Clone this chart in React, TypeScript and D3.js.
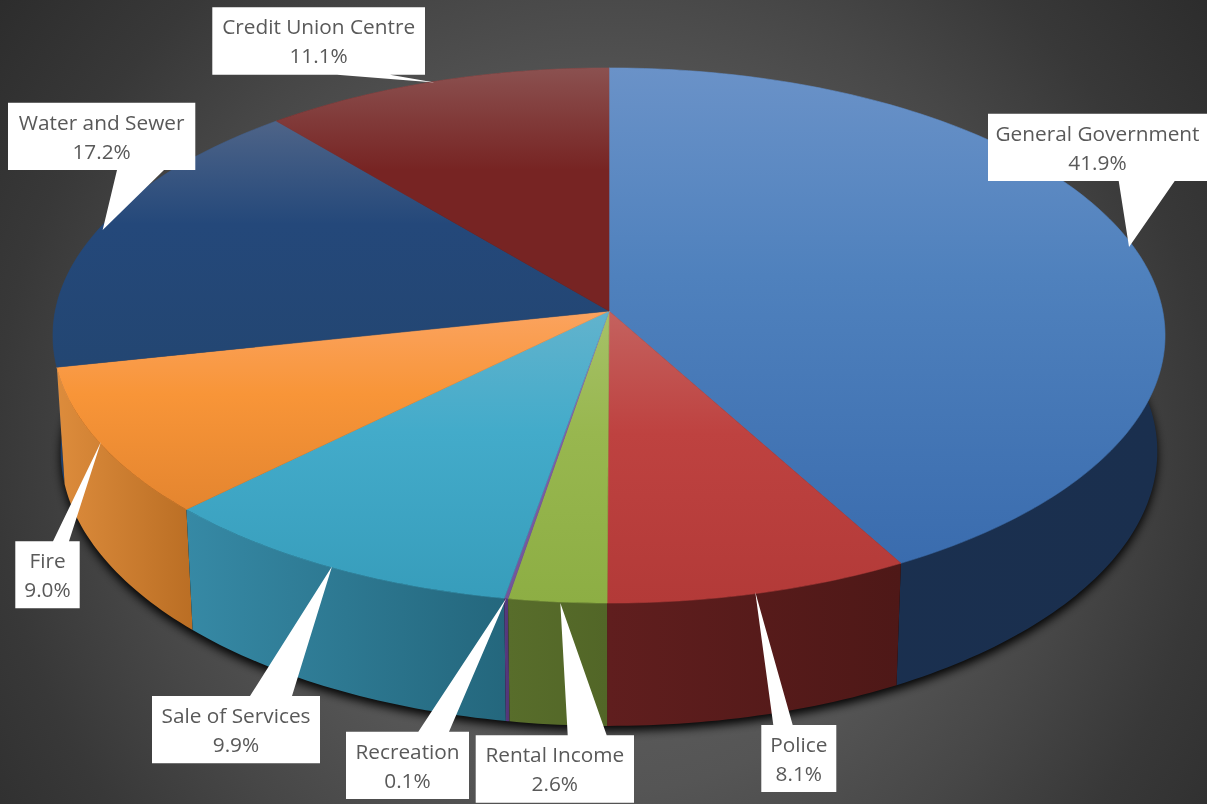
import React from "react";
import * as d3 from "d3";

const categories = ["General Government", "Police", "Rental Income", "Recreation", "Sale of Services", "Fire", "Water and Sewer", "Credit Union Centre"];
const shares = [41.9, 8.1, 2.6, 0.1, 9.9, 9.0, 17.2, 11.1];
const topLight = ["#6A92C8", "#C4625F", "#A6C168", "#9479BC", "#62B3CD", "#FBA35F", "#4E6488", "#8B5150"];
const topBase = ["#4F81BD", "#BE4240", "#98B74F", "#7F5FA9", "#43ABCA", "#F89538", "#24487A", "#772423"];
const topDark = ["#3A6CAE", "#B33A38", "#8DAE44", "#71559A", "#379DBB", "#E4852F", "#234672", "#772423"];
const wallLeft = ["#1A3050", "#601E1E", "#586D2B", "#5A3A80", "#3689A5", "#DD8C3C", "#1F3F6B", "#4E1817"];
const wallRight = ["#1A2F4E", "#4E1817", "#526627", "#503574", "#24677D", "#BA6E24", "#1F3F6B", "#4E1817"];
// label boxes and callout bases, in page pixels
const boxX0 = [988, 761.3, 475.7, 346, 152, 15.3, 8, 212.3];
const boxX1 = [1207, 836.3, 634, 469, 320, 79.7, 195.3, 425];
const boxY0 = [113.7, 725, 735.3, 731.7, 696, 541.3, 102.7, 7.3];
const boxY1 = [181, 792, 802.7, 799, 763.3, 608.3, 170, 74.7];
const baseA = [1118.7, 773.3, 567.7, 418.3, 250, 53, 117, 337];
const baseB = [1174.7, 792.7, 606.7, 449, 292, 69, 164, 390];
const tipDx = [-4, -5, 3, 0, 3.5, 2, 2, 0];
const tipDy = [1, -1, 1, 0, 0, 0, 3, 1];

const W = 1207, H = 804;
const cx = 609, cy = 311, A = 553.7, B = 265.3, K = 0.0916, D = 0.014, DROP = 117.4;

type P = [number, number];
const topPt = (t: number): P => {
  const u = Math.sin(t), v = Math.cos(t), s = 1 + K * v;
  return [cx + (A * u) / s, cy - (B * v) / s];
};
const botPt = (t: number): P => {
  const u = Math.sin(t), v = Math.cos(t), s = 1 + K * v + D;
  return [cx + (A * u) / s, cy + (-B * v + DROP) / s];
};
const line = d3.line<P>().x((d) => d[0]).y((d) => d[1]);

const arcs = d3.pie<number>().sort(null).startAngle(0).endAngle(2 * Math.PI)(shares);
const sample = (a: number, b: number, fn: (t: number) => P): P[] => {
  const n = Math.max(2, Math.ceil(((b - a) * 180) / Math.PI));
  return d3.range(n + 1).map((i) => fn(a + ((b - a) * i) / n));
};
const face = (a: number, b: number) => line([[cx, cy], ...sample(a, b, topPt)])! + "Z";
const wall = (a: number, b: number) => line([...sample(a, b, topPt), ...sample(a, b, botPt).reverse()])! + "Z";
const bottom = line(sample(0, 2 * Math.PI, botPt))! + "Z";

const wallOrder = d3.range(arcs.length).sort(
  (p, q) => Math.cos((arcs[q].startAngle + arcs[q].endAngle) / 2) - Math.cos((arcs[p].startAngle + arcs[p].endAngle) / 2)
);

function callout(i: number): string {
  const rim = topPt((arcs[i].startAngle + arcs[i].endAngle) / 2);
  const tip: P = [rim[0] + tipDx[i], rim[1] + tipDy[i]];
  const x0 = boxX0[i], x1 = boxX1[i], y0 = boxY0[i], y1 = boxY1[i];
  const a = baseA[i], b = baseB[i];
  const pts: P[] =
    tip[1] > y1
      ? [[x0, y0], [x1, y0], [x1, y1], [b, y1], tip, [a, y1], [x0, y1]]
      : [[x0, y0], [a, y0], tip, [b, y0], [x1, y0], [x1, y1], [x0, y1]];
  return line(pts)! + "Z";
}

export default function App() {
  const font = "'Open Sans', 'Noto Sans', sans-serif";
  return (
    <svg width={W} height={H} viewBox={`0 0 ${W} ${H}`} style={{ position: "fixed", left: 0, top: 0 }}>
      <defs>
        <radialGradient id="bg" gradientUnits="userSpaceOnUse" cx={603} cy={450} r={760}>
          <stop offset="0" stopColor="#666666" />
          <stop offset="0.45" stopColor="#555555" />
          <stop offset="0.63" stopColor="#474747" />
          <stop offset="0.8" stopColor="#383838" />
          <stop offset="1" stopColor="#2c2c2c" />
        </radialGradient>
        <filter id="blur" x="-5%" y="-5%" width="110%" height="115%">
          <feGaussianBlur stdDeviation="5" />
        </filter>
        {arcs.map((_, i) => (
          <linearGradient key={i} id={`t${i}`} x1="0" y1="0" x2="0" y2="1">
            <stop offset="0" stopColor={topLight[i]} />
            <stop offset="0.42" stopColor={topBase[i]} />
            <stop offset="1" stopColor={topDark[i]} />
          </linearGradient>
        ))}
        {arcs.map((_, i) => (
          <linearGradient key={i} id={`w${i}`} x1="0" y1="0" x2="1" y2="0">
            <stop offset="0" stopColor={wallLeft[i]} />
            <stop offset="1" stopColor={wallRight[i]} />
          </linearGradient>
        ))}
      </defs>
      <rect width={W} height={H} fill="url(#bg)" />
      <path d={bottom} fill="#000" opacity={0.95} filter="url(#blur)" transform="translate(0,5)" />
      {wallOrder.map((i) => (
        <path key={i} d={wall(arcs[i].startAngle, arcs[i].endAngle)} fill={`url(#w${i})`} />
      ))}
      {arcs.map((d, i) => (
        <path key={i} d={face(d.startAngle, d.endAngle)} fill={`url(#t${i})`} stroke={`url(#t${i})`} strokeWidth={0.6} />
      ))}
      {arcs.map((_, i) => (
        <g key={i}>
          <path d={callout(i)} fill="#fff" />
          <text
            x={(boxX0[i] + boxX1[i]) / 2}
            y={boxY0[i] + 27}
            textAnchor="middle"
            fontFamily={font}
            fontSize={20.8}
            fill="#595959"
          >
            <tspan>{categories[i]}</tspan>
            <tspan x={(boxX0[i] + boxX1[i]) / 2} dy={29}>{shares[i].toFixed(1)}%</tspan>
          </text>
        </g>
      ))}
    </svg>
  );
}
